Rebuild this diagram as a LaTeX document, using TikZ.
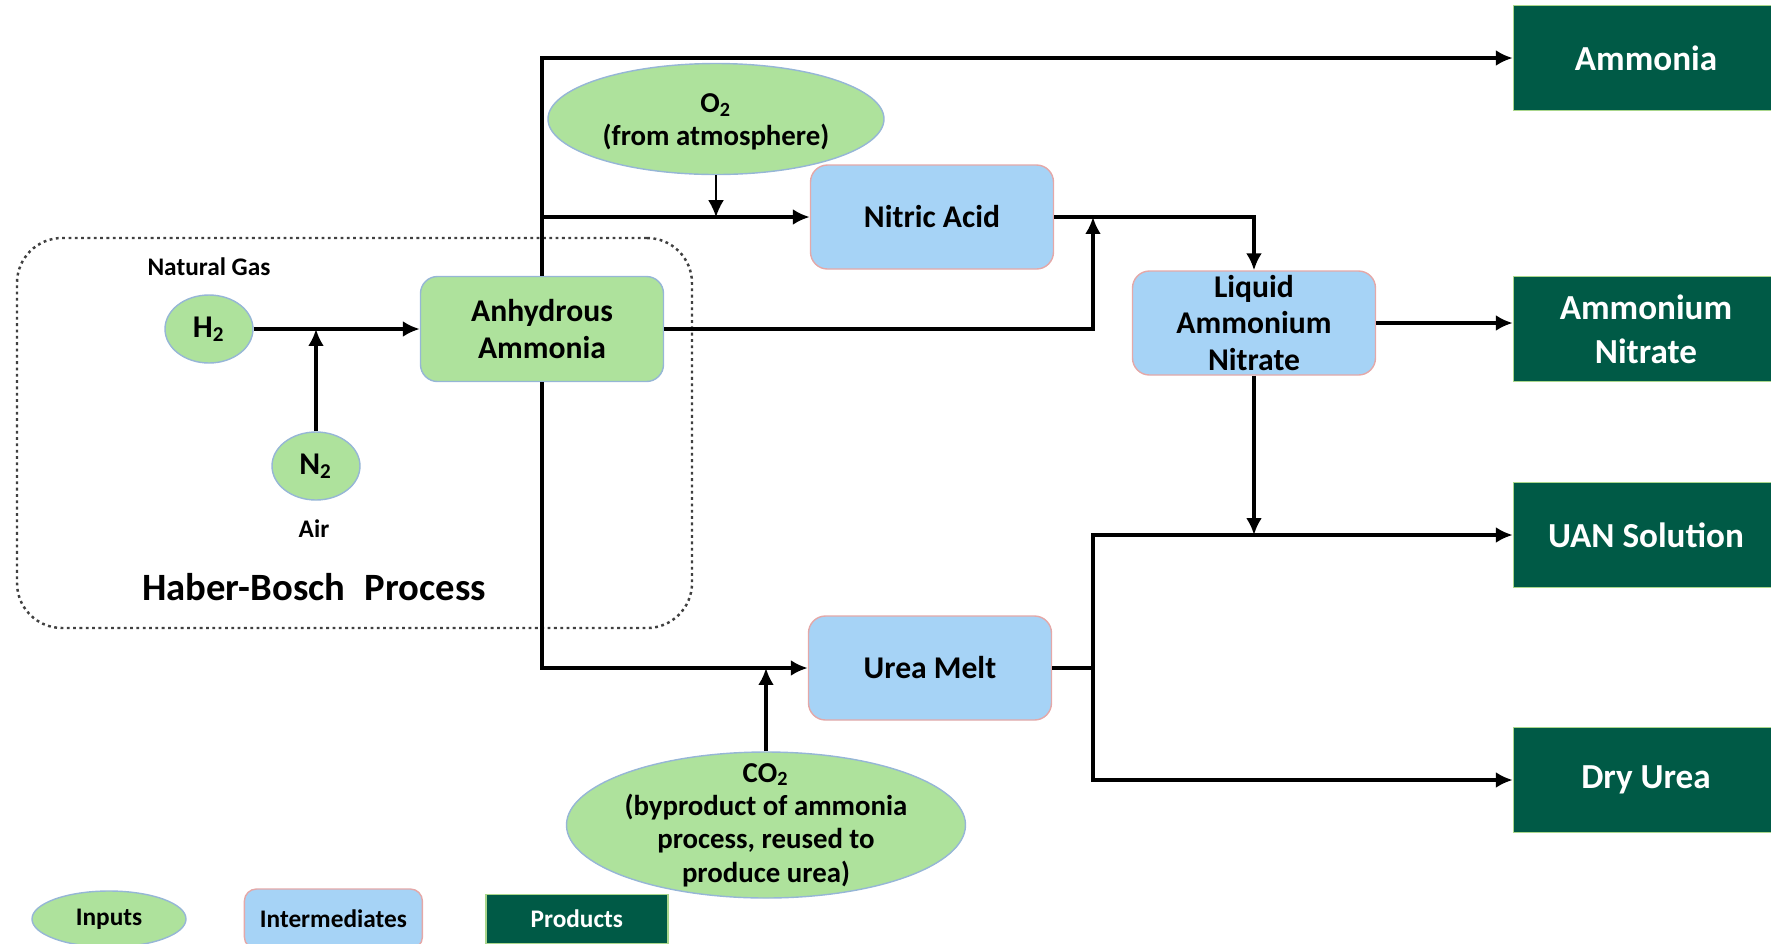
\documentclass[tikz,border=0pt]{standalone}
\usepackage{fontspec}
\setmainfont{Carlito}
\usetikzlibrary{
arrows.meta,
calc,
positioning,
shapes.geometric
}
\definecolor{inputfill}{RGB}{174,226,156}
\definecolor{inputline}{RGB}{150,182,214}
\definecolor{midfill}{RGB}{166,211,246}
\definecolor{midline}{RGB}{228,168,168}
\definecolor{prodfill}{RGB}{0,90,70}
\definecolor{prodline}{RGB}{170,214,140}
\tikzset{>={Latex[length=4.8pt,width=4.5pt]}}
\tikzset{
  inputoval/.style={draw=inputline,fill=inputfill,ellipse,inner sep=0pt},
  inputtext/.style={align=center,inner sep=0pt,font=\fontsize{8.2}{9.3}\selectfont\bfseries},
  midbox/.style={draw=midline,fill=midfill,rounded corners=1.7mm,inner sep=0pt,minimum width=2.43cm,minimum height=1.04cm,align=center,font=\fontsize{9}{10.5}\selectfont\bfseries},
  greenbox/.style={midbox,draw=inputline,fill=inputfill},
  prodbox/.style={draw=prodline,fill=prodfill,text=white,minimum width=2.65cm,minimum height=1.05cm,align=center,font=\fontsize{10}{12.5}\selectfont\bfseries},
  smalllabel/.style={font=\fontsize{7.2}{9}\selectfont\bfseries},
  flow/.style={->,line width=1.1pt}
}

\begin{document}
\begin{tikzpicture}
	\useasboundingbox (0,0) rectangle (17.71,-9.43);

	% Haber-Bosch block
	\node[draw=black!75,line width=0.7pt,dash pattern=on 0.8pt off 1pt,rounded corners=0.45cm,minimum width=6.75cm,minimum height=3.9cm] (hb) at (3.545,-4.33) {};
	\node[font=\fontsize{11}{12}\selectfont\bfseries] (hbname) at (3.14,-5.87) {Haber-Bosch\hspace{0.5em}Process};

	\node[inputoval,minimum width=0.88cm,minimum height=0.68cm,font=\fontsize{9}{10}\selectfont\bfseries] (h2) at (2.09,-3.29) {H\textsubscript{2}};
	\node[inputoval,minimum width=0.88cm,minimum height=0.68cm,font=\fontsize{9}{10}\selectfont\bfseries] (n2) at (3.16,-4.66) {N\textsubscript{2}};
	\node[smalllabel] (gas) at (2.09,-2.67) {Natural Gas};
	\node[smalllabel] (air) at (3.14,-5.29) {Air};

	\node[greenbox,minimum height=1.05cm] (anh) at (5.42,-3.29) {Anhydrous\\Ammonia};

	% intermediates
	\node[midbox] (nitric) at (9.32,-2.17) {Nitric Acid};
	\node[midbox] (lan) at (12.54,-3.23) {Liquid\\Ammonium\\Nitrate};
	\node[midbox] (urea) at (9.30,-6.68) {Urea Melt};

	% outside inputs
	\node[inputoval,minimum width=3.36cm,minimum height=1.11cm] (o2) at (7.16,-1.19) {};
	\node[inputtext] (o2text) at ([yshift=-0.03cm]o2) {O\textsubscript{2}\\(from atmosphere)};
	\node[inputoval,minimum width=3.99cm,minimum height=1.46cm] (co2) at (7.66,-8.25) {};
	\node[inputtext,font=\fontsize{8.2}{9.5}\selectfont\bfseries] (co2text) at (co2) {CO\textsubscript{2}\\(byproduct of ammonia\\process, reused to\\produce urea)};

	% products
	\node[prodbox] (amm) at (16.46,-0.58) {Ammonia};
	\node[prodbox] (an) at (16.46,-3.29) {Ammonium\\Nitrate};
	\node[prodbox] (uan) at (16.46,-5.35) {UAN Solution};
	\node[prodbox] (dry) at (16.46,-7.80) {Dry Urea};

	\coordinate (split) at ($(nitric.east)!0.5!(lan.west)$);

	\draw[flow] (h2.east) -- (h2.east -| anh.west);
	\draw[flow] (n2.north) -- (n2.north |- h2.east);
	\draw[flow] (anh.north) |- (amm.west);
	\draw[flow] (anh.north |- nitric.west) -- (nitric.west);
	\draw[->,line width=0.5pt] (o2.south) -- (o2.south |- nitric.west);
	\draw[flow] (anh.south) |- (urea.west);
	\draw[flow] (co2.north) -- (co2.north |- urea.west);
	\draw[flow] (anh.east) -| (split |- nitric.east);
	\draw[flow] (nitric.east) -| (lan.north);
	\draw[flow] (lan.east) -- (lan.east -| an.west);
	\draw[flow] (lan.south) -- (lan.south |- uan.west);
	\draw[flow] (urea.east) -- (split |- urea.east) |- (uan.west);
	\draw[flow] (split |- urea.east) |- (dry.west);

	% key
	\node[inputoval,minimum width=1.54cm,minimum height=0.56cm,smalllabel] (keyin) at (1.09,-9.19) {Inputs};
	\node[midbox,rounded corners=1.2mm,minimum width=1.78cm,minimum height=0.6cm,smalllabel,right=0.57cm of keyin] (keymid) {Intermediates};
	\node[prodbox,minimum width=1.82cm,minimum height=0.49cm,smalllabel,right=0.62cm of keymid] (keyprod) {Products};
\end{tikzpicture}
\end{document}
